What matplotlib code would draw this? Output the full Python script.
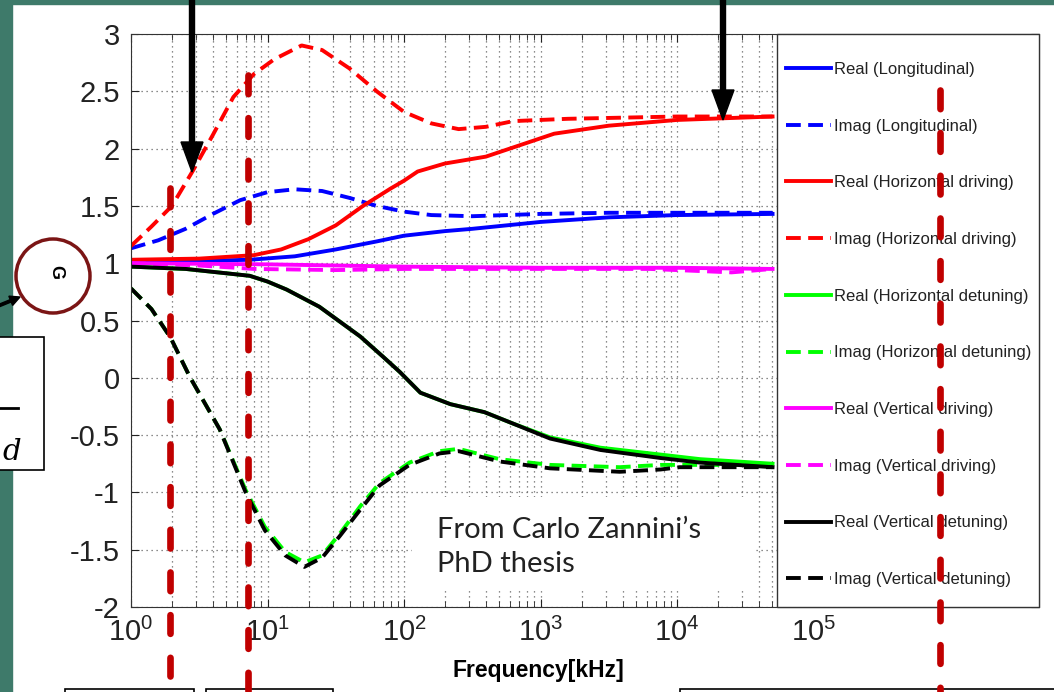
import matplotlib
matplotlib.use('Agg')
import matplotlib.pyplot as plt
from matplotlib.patches import Rectangle, Circle
from matplotlib.ticker import FixedLocator, LogLocator, NullFormatter

plt.rcParams['font.family'] = ['Liberation Sans', 'DejaVu Sans']
plt.rcParams['mathtext.default'] = 'regular'

W, H = 1054, 692

# log10(frequency [kHz]) and values
lf_re_long = [0, 0.5, 0.87, 1.2, 1.5, 1.8, 2.0, 2.3, 2.5, 3.0, 3.5, 4.0, 4.7]
re_long = [1.02, 1.02, 1.03, 1.06, 1.12, 1.19, 1.24, 1.28, 1.30, 1.36, 1.40, 1.42, 1.43]

lf_im_long = [0, 0.2, 0.4, 0.6, 0.8, 1.0, 1.2, 1.4, 1.6, 1.8, 2.0, 2.2, 2.5, 3.0, 3.5, 4.0, 4.7]
im_long = [1.13, 1.20, 1.30, 1.43, 1.55, 1.62, 1.645, 1.63, 1.57, 1.50, 1.45, 1.42, 1.41, 1.43, 1.44, 1.44, 1.44]

lf_re_hdr = [0, 0.5, 0.9, 1.1, 1.3, 1.5, 1.7, 1.9, 2.0, 2.1, 2.3, 2.6, 2.85, 3.1, 3.5, 4.0, 4.7]
re_hdr = [1.03, 1.04, 1.07, 1.12, 1.21, 1.33, 1.50, 1.65, 1.72, 1.80, 1.87, 1.93, 2.03, 2.13, 2.20, 2.25, 2.28]

lf_im_hdr = [0, 0.15, 0.3, 0.45, 0.6, 0.75, 0.9, 1.05, 1.25, 1.4, 1.6, 1.8, 2.0, 2.2, 2.4, 2.6, 2.8, 3.2, 3.6, 4.0, 4.7]
im_hdr = [1.15, 1.32, 1.50, 1.80, 2.12, 2.45, 2.65, 2.78, 2.90, 2.86, 2.70, 2.50, 2.32, 2.22, 2.17, 2.19, 2.24, 2.26, 2.27, 2.28, 2.28]

lf_re_det = [0, 0.4, 0.87, 1.0, 1.14, 1.38, 1.68, 1.85, 1.97, 2.12, 2.34, 2.59, 2.8, 3.07, 3.44, 3.88, 4.17, 4.7]
re_hdet = [0.97, 0.95, 0.89, 0.84, 0.77, 0.62, 0.36, 0.18, 0.05, -0.13, -0.23, -0.30, -0.40, -0.52, -0.61, -0.67, -0.71, -0.75]
re_vdet = [0.97, 0.95, 0.89, 0.84, 0.77, 0.62, 0.36, 0.18, 0.05, -0.13, -0.23, -0.30, -0.40, -0.53, -0.63, -0.70, -0.74, -0.78]

lf_im_det = [0, 0.15, 0.29, 0.43, 0.65, 0.84, 0.98, 1.13, 1.27, 1.4, 1.53, 1.68, 1.82, 2.04, 2.26, 2.4, 2.7, 3.07, 3.58, 3.88, 4.02, 4.4, 4.7]
im_hdet = [0.78, 0.60, 0.35, 0.01, -0.45, -0.98, -1.30, -1.52, -1.61, -1.55, -1.36, -1.12, -0.92, -0.74,
           -0.64, -0.62, -0.71, -0.76, -0.78, -0.76, -0.76, -0.76, -0.76]
im_vdet = [0.78, 0.60, 0.35, 0.01, -0.45, -1.00, -1.33, -1.55, -1.65, -1.57, -1.38, -1.15, -0.94, -0.76,
           -0.66, -0.64, -0.73, -0.79, -0.82, -0.80, -0.78, -0.78, -0.78]

lf_re_vdr = [0, 1, 2, 3, 4, 4.7]
re_vdr = [1.00, 0.99, 0.97, 0.96, 0.96, 0.95]

lf_im_vdr = [0, 0.5, 0.9, 1.5, 2, 3, 3.8, 4.2, 4.4, 4.6, 4.7]
im_vdr = [1.00, 0.98, 0.95, 0.94, 0.95, 0.95, 0.95, 0.93, 0.92, 0.94, 0.95]

labels = ['Real (Longitudinal)', 'Imag (Longitudinal)',
          'Real (Horizontal driving)', 'Imag (Horizontal driving)',
          'Real (Horizontal detuning)', 'Imag (Horizontal detuning)',
          'Real (Vertical driving)', 'Imag (Vertical driving)',
          'Real (Vertical detuning)', 'Imag (Vertical detuning)']

series = [(lf_re_long, re_long, 'blue', '-'), (lf_im_long, im_long, 'blue', '--'),
          (lf_re_hdr, re_hdr, 'red', '-'), (lf_im_hdr, im_hdr, 'red', '--'),
          (lf_re_det, re_hdet, '#00ff00', '-'), (lf_im_det, im_hdet, '#00ff00', '--'),
          (lf_re_vdr, re_vdr, 'magenta', '-'), (lf_im_vdr, im_vdr, 'magenta', '--'),
          (lf_re_det, re_vdet, 'black', '-'), (lf_im_det, im_vdet, 'black', '--')]

fig = plt.figure(figsize=(W / 100, H / 100), dpi=100, facecolor='white')
ax = fig.add_axes([131 / W, 1 - 607 / H, (1039 - 131) / W, (607 - 34) / H])

handles = []
for (lf, vals, col, ls), lab in zip(series, labels):
    f = [10 ** v for v in lf]
    if ls == '--':
        h, = ax.plot(f, vals, color=col, lw=2.8, dashes=(3.8, 1.9), label=lab)
    else:
        h, = ax.plot(f, vals, color=col, lw=2.8, label=lab)
    handles.append(h)

ax.set_xscale('log')
ax.set_xlim(1, 10 ** ((1039 - 131) / 136.5))
ax.set_ylim(-2, 3)
ax.set_xticks([1, 10, 100, 1e3, 1e4, 1e5])
ax.set_xticklabels(['$10^{%d}$' % i for i in range(6)])
ax.xaxis.set_minor_locator(LogLocator(base=10, subs=range(2, 10), numticks=20))
ax.xaxis.set_minor_formatter(NullFormatter())
yt = [-2, -1.5, -1, -0.5, 0, 0.5, 1, 1.5, 2, 2.5, 3]
ax.yaxis.set_major_locator(FixedLocator(yt))
ax.set_yticklabels(['%g' % v for v in yt])
ax.tick_params(axis='both', which='both', direction='in', top=True, right=True, labelsize=21,
               colors='#222222', pad=8)
ax.tick_params(which='major', length=6)
ax.tick_params(which='minor', length=4)
ax.grid(True, which='both', axis='x', lw=0.9, color='#666666', dashes=(1, 3))
ax.grid(True, which='major', axis='y', lw=0.9, color='#666666', dashes=(1, 3))
for s in ax.spines.values():
    s.set_color('#333333')
ax.set_xlabel('Frequency[kHz]', fontsize=16.5, fontweight='bold')
ax.xaxis.set_label_coords((538 - 131) / (1039 - 131), -0.09)

# overlay in pixel coordinates for slide decorations
ov = fig.add_axes([0, 0, 1, 1], zorder=10)
ov.set_xlim(0, W)
ov.set_ylim(H, 0)
ov.axis('off')
ov.patch.set_alpha(0)

green = '#3e7a6a'
ov.add_patch(Rectangle((0, 0), 12, H, color=green, zorder=0))
ov.add_patch(Rectangle((0, 0), W, 4, color=green, zorder=0))

# legend box
ov.add_patch(Rectangle((777, 34), 1039 - 777, 607 - 34, fc='white', ec='#333333', lw=1, zorder=1))
ov.legend(handles, labels, loc='upper left', bbox_to_anchor=(786 / W, 1 - 62 / H),
          bbox_transform=fig.transFigure, frameon=False, fontsize=12, labelspacing=2.5,
          handlelength=2.7, handletextpad=0.2, borderpad=0, borderaxespad=0, labelcolor='#222222')

# text box
ov.add_patch(Rectangle((412, 497), 755 - 412, 588 - 497, fc='white', ec='none', zorder=1))
for txt, yb in [('From Carlo Zannini\u2019s', 538), ('PhD thesis', 572)]:
    ov.text(437, yb, txt, fontsize=21, family=['Lato', 'DejaVu Sans'],
            color='#222222', va='baseline', ha='left', zorder=2)

# red dashed markers
for x, y0 in [(170, 188), (248, 75), (940, 90)]:
    ov.plot([x, x], [y0, H + 5], color='#c00000', lw=4.8, dashes=(2.8, 3.6),
            dash_capstyle='round', zorder=8)

# black arrows
for x, y1 in [(192, 172), (723, 120)]:
    ov.arrow(x, -5, 0, y1 + 5, width=5, head_width=22, head_length=30,
             length_includes_head=True, color='black', zorder=9)
ov.arrow(-2, 306, 22, -9, width=2.5, head_width=10, head_length=10,
         length_includes_head=True, color='black', zorder=9)

# circle with G
ov.add_patch(Circle((53, 276), 37, fill=False, ec='#7b1515', lw=2.5, zorder=3))
ov.text(56, 272, 'G', fontsize=13, fontweight='bold', rotation=-90, ha='center', va='center')

# left formula box
ov.add_patch(Rectangle((-5, 337), 49, 133, fc='white', ec='black', lw=1.2, zorder=3))
ov.plot([0, 18], [408, 408], color='black', lw=2, zorder=4)
ov.text(12, 452, 'd', fontsize=21, family='DejaVu Serif', style='italic',
        ha='center', va='center', zorder=4)

# bottom boxes
for x0, x1 in [(65, 194), (206, 333), (680, 1060)]:
    ov.add_patch(Rectangle((x0, 689), x1 - x0, 20, fc='white', ec='black', lw=1.2, zorder=3))

fig.savefig('out.png', dpi=100, facecolor='white')
